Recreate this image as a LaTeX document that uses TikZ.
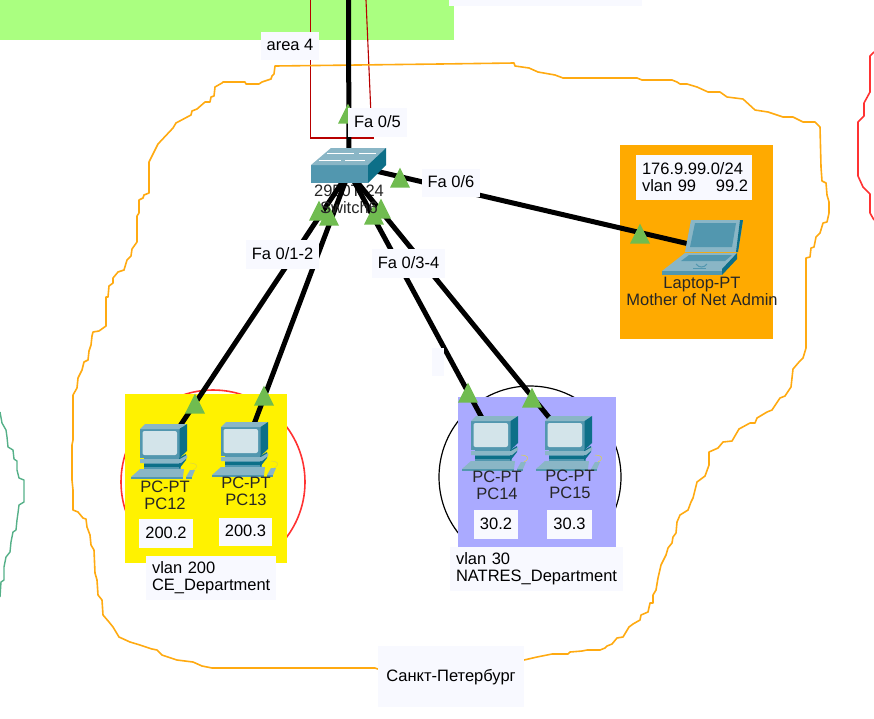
\documentclass[tikz,border=0pt]{standalone}
\usepackage{fontspec}
\setmainfont{Liberation Sans}
\usepackage{xcolor}
\usetikzlibrary{positioning,arrows.meta,shapes.geometric}
\definecolor{teallt}{HTML}{8AB6C6}
\definecolor{tealmd}{HTML}{5297AF}
\definecolor{tealdk}{HTML}{0D6F88}
\definecolor{screenlt}{HTML}{D3E4EA}
\definecolor{tagfill}{HTML}{F8F9FF}
\definecolor{portgreen}{HTML}{70BC50}
\definecolor{areagreen}{HTML}{AAFF80}
\definecolor{vlanblue}{HTML}{AAAAFF}
\definecolor{vlanorange}{HTML}{FFAA00}
\definecolor{borderorange}{HTML}{FFAA11}
\definecolor{borderred}{HTML}{FF3232}
\definecolor{bordergreen}{HTML}{55B088}
\definecolor{wirered}{HTML}{B80000}

\begin{document}
\begin{tikzpicture}[
  x=1pt,y=-1pt,
  font=\fontsize{16.5}{17}\selectfont,
  tag/.style={fill=tagfill,inner sep=0pt,align=center,text=black,text height=12pt,text depth=3pt},
  leftag/.style={fill=tagfill,inner xsep=6pt,inner ysep=0pt,align=left,text=black},
  devlabel/.style={inner sep=0pt,align=center,text=black!85},
  port/.style={isosceles triangle,isosceles triangle stretches,shape border rotate=90,
    fill=portgreen,inner sep=0pt,minimum width=20pt,minimum height=20pt,anchor=apex},
  hub/.style={inner sep=0pt,minimum size=14pt},
  dev/.style={inner sep=0pt,minimum size=2pt},
  link/.style={line width=5pt,black},
  border/.style={line width=1.6pt,borderorange,line join=round},
  pcicon/.pic={
    \fill[tealmd] (-24,-21) rectangle (15.5,8);
    \fill[teallt] (-24,-21) -- (-19,-26) -- (23,-26) -- (15.5,-21) -- cycle;
    \fill[tealdk] (15.5,-21) -- (23,-26) -- (23,1) -- (15.5,8) -- cycle;
    \fill[screenlt,rounded corners=2pt] (-21.5,-19) rectangle (13,5);
    \fill[tealmd] (-20,8) rectangle (17,19);
    \fill[tealdk] (15,8) -- (22,4) -- (22,10) -- (15,19) -- cycle;
    \fill[teallt] (-24,9) -- (16,9) -- (23,5) -- (23,8) -- (17,13) -- (-24,13) -- cycle;
    \fill[tealdk] (-20,14) rectangle (17,17);
    \fill[teallt] (-33,27) -- (-24,19) -- (20,19) -- (19,27) -- cycle;
    \fill[tealmd] (-33,27) rectangle (19,28.5);
    \fill[teallt] (22,27) -- (26,20) -- (31,20) -- (28,27) -- cycle;
    \fill[tealmd] (22,27) rectangle (28,28.5);
    \draw[yellow!70!gray,line width=.5pt] (26,13) .. controls (32,13) and (36,16) .. (29,20);
  },
  laptopicon/.pic={
    \fill[teallt] (-11,-27) -- (41,-27) -- (36,5) -- (-17,5) -- cycle;
    \fill[tealdk] (38,-27) -- (41,-27) -- (36,5) -- (34,5) -- cycle;
    \fill[tealmd] (-7,-24) -- (34,-24) -- (30,0) -- (-12,0) -- cycle;
    \fill[teallt] (-40,24) -- (-17,6) -- (35,6) -- (20,24) -- cycle;
    \fill[tealmd] (-13,8) -- (30,8) -- (23,14) -- (-21,14) -- cycle;
    \fill[tealmd] (-40,24) rectangle (20,28);
    \fill[tealdk] (20,28) -- (35,12) -- (35,6) -- (20,22) -- cycle;
    \draw[tealmd,line width=1pt] (-6,17) .. controls (-3,21) and (2,21) .. (5,17);
    \draw[tealmd,line width=1pt] (-9,21) -- (4,21);
  },
  swicon/.pic={
    \fill[tealmd] (-38,-7) rectangle (19,11);
    \fill[teallt] (-38,-7) -- (-18,-24) -- (37,-24) -- (19,-7) -- cycle;
    \fill[tealdk] (19,-7) -- (37,-24) -- (37,-7) -- (19,11) -- cycle;
    \draw[white,line width=1pt] (-22,-19) -- (5,-19) (10,-19) -- (27,-19);
    \draw[white,line width=1pt] (-30,-12) -- (-8,-12) (-4,-12) -- (16,-12);
  }
]
\useasboundingbox (0,0) rectangle (874,718);
% zones
\fill[areagreen] (0,0) rectangle (454,40);
\fill[tagfill] (449,0) rectangle (642,6);
\draw[wirered,line width=1.3pt] (310.5,0) -- (310.5,138) -- (374,138);
\draw[wirered,line width=1.1pt] (366,0) -- (372,138);
\draw[borderred,line width=1.6pt] (213,482) circle (92);
\draw[black,line width=1.2pt] (530,477) circle (91);
\fill[yellow] (125,394) rectangle (287,563);
\fill[vlanblue] (458,397) rectangle (616,547.5);
\fill[vlanorange] (620,145) rectangle (773,339);

% area borders
\draw[border] (275,66) -- (440,64) -- (514,63) -- (515,66) -- (522,67) -- (529,68) -- (538,72)
  -- (555,75) -- (563,78) -- (637,78) -- (642,80) -- (672,80) -- (677,82) -- (680,84) -- (687,84)
  -- (697,87) -- (708,92) -- (720,92) -- (727,97) -- (743,99) -- (755,110) -- (768,112) -- (783,117)
  -- (793,117) -- (803,122) -- (815,122) -- (820,127) -- (821,167) -- (822,181) -- (826,183)
  -- (827,195) -- (829,202) -- (829,213) -- (827,222) -- (823,223) -- (820,233) -- (816,237)
  -- (814,247) -- (811,248) -- (810,257) -- (806,258) -- (806,348) -- (803,358) -- (799,362)
  -- (793,369) -- (791,387) -- (785,396) -- (780,398) -- (772,410) -- (767,412) -- (757,418)
  -- (755,423) -- (750,423) -- (739,429) -- (732,441) -- (723,442) -- (718,448) -- (709,452)
  -- (709,465) -- (705,476) -- (697,482) -- (693,498) -- (691,502) -- (688,510) -- (680,515)
  -- (677,522) -- (676,533) -- (673,537) -- (672,543) -- (668,548) -- (666,555) -- (661,565)
  -- (658,578) -- (656,590) -- (653,595) -- (653,603) -- (650,603) -- (648,612) -- (641,615)
  -- (640,620) -- (633,624) -- (629,627) -- (623,637) -- (617,638) -- (612,644) -- (607,646)
  -- (605,648) -- (600,650) -- (587,650) -- (582,651) -- (570,652) -- (568,654) -- (552,654)
  -- (537,657) -- (524,660) -- (451,672) -- (378,669) -- (375,668) -- (212,668) -- (202,666)
  -- (193,662) -- (177,660) -- (162,655) -- (157,650) -- (152,649) -- (140,645) -- (130,642)
  -- (119,637) -- (113,627) -- (109,622) -- (103,615) -- (102,600) -- (98,595) -- (97,580)
  -- (95,573) -- (94,550) -- (91,545) -- (90,535) -- (87,527) -- (86,519) -- (83,518) -- (78,512)
  -- (73,510) -- (73,490) -- (72,480) -- (72,445) -- (73,440) -- (73,395) -- (77,388) -- (78,378)
  -- (82,370) -- (84,362) -- (88,360) -- (89,351) -- (91,345) -- (92,336) -- (93,332) -- (99,331)
  -- (106,326) -- (106,297) -- (108,297) -- (109,286) -- (113,283) -- (113,278) -- (118,272)
  -- (124,270) -- (127,260) -- (131,256) -- (132,249) -- (137,242) -- (137,216) -- (139,213)
  -- (139,200) -- (143,198) -- (144,195) -- (149,193) -- (149,162) -- (158,144) -- (173,128)
  -- (176,123) -- (191,115) -- (192,111) -- (197,109) -- (205,102) -- (210,102) -- (211,97)
  -- (214,96) -- (215,87) -- (222,83) -- (223,82) -- (245,82) -- (246,84) -- (259,84) -- (262,82)
  -- (271,79) -- (272,76) -- (274,74) -- cycle;
\draw[borderred,line width=1.6pt,line join=round] (874,52) -- (870,56) -- (870,92)
  -- (864,103) -- (864,116) -- (858,122) -- (858,176) -- (863,187) -- (870,194) -- (870,213) -- (874,220);
\draw[bordergreen,line width=1.4pt,line join=round] (0,412) -- (2,423) -- (6,430)
  -- (7,437) -- (8,447) -- (13,450) -- (14,459) -- (17,461) -- (17,470) -- (19,478) -- (24,480)
  -- (24,502) -- (19,505) -- (18,513) -- (17,520) -- (16,530) -- (13,532) -- (11,542) -- (10,552)
  -- (6,557) -- (4,567) -- (4,580) -- (1,582) -- (0,597);

% devices (anchors for the links)
\node[hub] (sw) at (349,172) {};
\coordinate (uplink) at (348.5,-3);
\node[dev] (pc12) at (164,450) {};
\node[dev] (pc13) at (245,448) {};
\node[dev] (pc14) at (495,442) {};
\node[dev] (pc15) at (569,442) {};
\node[dev] (laptop) at (702,247) {};

\node[devlabel] (swmodel) at (349,191) {2950T-24};

% links
\draw[link] (sw.center) -- (uplink);
\draw[link] (sw.center) -- (pc12.center);
\draw[link] (sw.center) -- (pc13.center);
\draw[link] (sw.center) -- (pc14.center);
\draw[link] (sw.center) -- (pc15.center);
\draw[link] (sw.north) -- (laptop.center);

% ports
\node[port] (p0) at (348,103) {};
\node[port] (p1) at (319,200) {};
\node[port] (p2) at (329,205) {};
\node[port] (p3) at (374,204) {};
\node[port] (p4) at (381,198) {};
\node[port] (p6) at (400,167) {};
\node[port] (p12) at (195,393) {};
\node[port] (p13) at (264,385) {};
\node[port] (p14) at (468,382) {};
\node[port] (p15) at (532,387) {};
\node[port] (p99) at (640,223) {};

% icons
\pic at (349,172) {swicon};
\pic at (164,450) {pcicon};
\pic at (245,448) {pcicon};
\pic at (495,442) {pcicon};
\pic at (569,442) {pcicon};
\pic at (702,247) {laptopicon};

\node[devlabel] (swname) at (349,208) {Switch6};
\node[devlabel] (pc12name) at (165,495) {PC-PT\\PC12};
\node[devlabel] (pc13name) at (246,491) {PC-PT\\PC13};
\node[devlabel] (pc14name) at (497,485.5) {PC-PT\\PC14};
\node[devlabel] (pc15name) at (570,484) {PC-PT\\PC15};
\node[devlabel] (laptopname) at (702,291) {Laptop-PT\\Mother of Net Admin};

% labels
\node[tag,minimum width=58pt,minimum height=28pt] (area) at (290,46) {area 4};
\node[tag,minimum width=59pt,minimum height=29pt] (fa5) at (377.5,122.5) {Fa 0/5};
\node[tag,minimum width=58pt,minimum height=28pt] (fa6) at (451,183) {Fa 0/6};
\node[tag,minimum width=73pt,minimum height=29pt] (fa12) at (282.5,254.5) {Fa 0/1-2};
\node[tag,minimum width=73pt,minimum height=29pt] (fa34) at (408.5,263.5) {Fa 0/3-4};
\node[tag,minimum width=12pt,minimum height=28pt] (blank) at (438,362) {};
\node[tag,minimum width=54pt,minimum height=29pt] (ip12) at (166,533.5) {200.2};
\node[tag,minimum width=53pt,minimum height=28pt] (ip13) at (245.5,532) {200.3};
\node[tag,minimum width=44pt,minimum height=29pt] (ip14) at (496,524.5) {30.2};
\node[tag,minimum width=45pt,minimum height=29pt] (ip15) at (569.5,524.5) {30.3};
\node[leftag,text width=104pt,minimum height=45pt] (net99) at (694,177.5) {176.9.99.0/24\\\mbox{vlan 99\hspace{1.2em}99.2}};
\node[leftag,text width=118pt,minimum height=44pt] (vlan200) at (211,578) {vlan 200\\CE\_Department};
\node[leftag,text width=161pt,minimum height=44pt] (vlan30) at (536.5,569) {vlan 30\\NATRES\_Department};
\node[tag,minimum width=146pt,minimum height=61pt] (spb) at (451,676.5) {Санкт-Петербург};
\end{tikzpicture}
\end{document}
